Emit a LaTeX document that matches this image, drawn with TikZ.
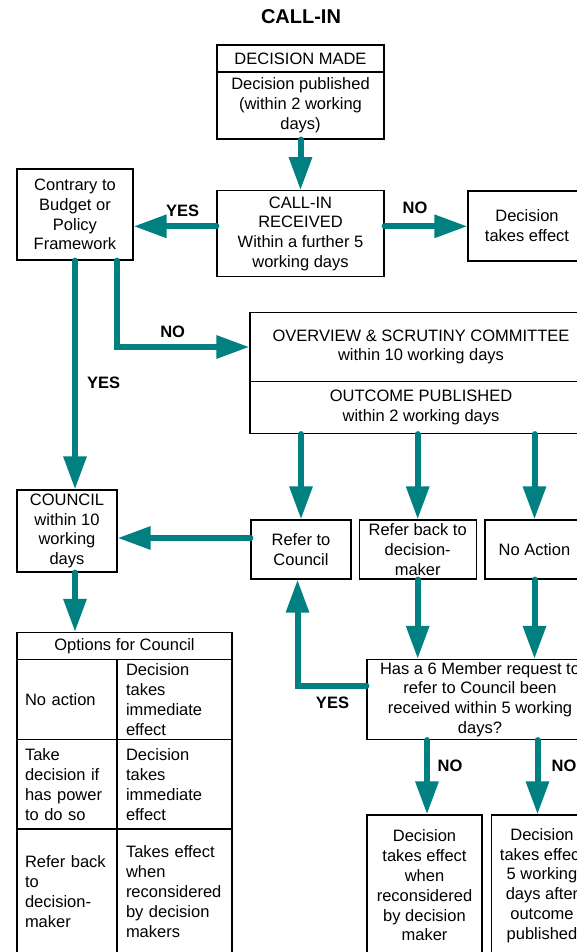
\documentclass[tikz,border=0pt]{standalone}
\usepackage{fontspec}
\setmainfont{Liberation Sans}
\usetikzlibrary{arrows.meta}
\definecolor{callteal}{RGB}{0,128,128}

\begin{document}
\begin{tikzpicture}[x=1pt,y=-1pt,
    box/.style={draw, line width=1.2pt, align=center, inner sep=0pt, font=\fontsize{16.5}{19.8}\selectfont},
    cell/.style={draw, line width=1.2pt, align=left, inner ysep=0pt, font=\fontsize{16.5}{19.8}\selectfont},
    flow/.style={draw=callteal, line width=6pt, line cap=round, -{Triangle[length=33pt,width=22pt]}},
    lbl/.style={font=\bfseries\fontsize{16.5}{19.8}\selectfont}]
    \useasboundingbox (0,0) rectangle (576,952);
    \node[font=\bfseries\fontsize{20}{24}\selectfont] (title) at (301,17) {CALL-IN};
    % top of the chart
    \node[box, minimum width=167pt, minimum height=27pt] (decmade) at (300.5,58.5) {DECISION MADE};
    \node[box, minimum width=167pt, minimum height=67pt] (decpub) at (300.5,105.5) {Decision published\\(within 2 working\\days)};
    \node[box, minimum width=167pt, minimum height=86pt] (callin) at (300.5,233.8) {CALL-IN\\RECEIVED\\Within a further 5\\working days};
    \node[box, minimum width=116pt, minimum height=91pt] (contrary) at (75,214.5) {Contrary to\\Budget or\\Policy\\Framework};
    \node[box, minimum width=118pt, minimum height=70pt] (effect) at (527,226) {Decision\\takes effect};
    % committee
    \node[box, minimum width=342pt, minimum height=69pt] (osc) at (421,347) {OVERVIEW \& SCRUTINY COMMITTEE\\within 10 working days};
    \node[box, minimum width=342pt, minimum height=52pt] (outcome) at (421,407.5) {OUTCOME PUBLISHED\\within 2 working days};
    \node[box, minimum width=100pt, minimum height=59pt] (refcouncil) at (301,549.5) {Refer to\\Council};
    \node[box, minimum width=117pt, minimum height=59pt] (referback) at (417.7,549.5) {Refer back to\\decision-\\maker};
    \node[box, minimum width=99pt, minimum height=59pt] (noaction) at (534.5,549.5) {No Action};
    \node[box, minimum width=100pt, minimum height=82pt] (council) at (67,531) {COUNCIL\\within 10\\working\\days};
    % options table
    \node[box, minimum width=215pt, minimum height=27pt] (opthead) at (124.5,646) {Options for Council};
    \node[cell, text width=84pt, inner xsep=8pt, minimum height=80pt] (opt1a) at (67,699.5) {No action};
    \node[cell, text width=97pt, inner xsep=9pt, minimum height=80pt] (opt1b) at (174.5,699.5) {Decision\\takes\\immediate\\effect};
    \node[cell, text width=84pt, inner xsep=8pt, minimum height=90pt] (opt2a) at (67,784.5) {Take\\decision if\\has power\\to do so};
    \node[cell, text width=97pt, inner xsep=9pt, minimum height=90pt] (opt2b) at (174.5,784.5) {Decision\\takes\\immediate\\effect};
    \node[cell, text width=84pt, inner xsep=8pt, minimum height=125pt] (opt3a) at (67,891.5) {Refer back\\to\\decision-\\maker};
    \node[cell, text width=97pt, inner xsep=9pt, minimum height=125pt] (opt3b) at (174.5,891.5) {Takes effect\\when\\reconsidered\\by decision\\makers};
    % member request
    \node[box, minimum width=226pt, minimum height=80pt] (question) at (480,699.5) {Has a 6 Member request to\\refer to Council been\\received within 5 working\\days?};
    \node[box, minimum width=115pt, minimum height=141pt] (botleft) at (424.5,885.5) {Decision\\takes effect\\when\\reconsidered\\by decision\\maker};
    \node[box, minimum width=101pt, minimum height=141pt] (botright) at (542,885.5) {Decision\\takes effect\\5 working\\days after\\outcome\\published};
    % connectors
    \draw[flow] (decpub.south) -- (callin.north);
    \draw[flow] ([yshift=7.5pt]callin.west) -- ([yshift=7.5pt]callin.west -| contrary.east);
    \draw[flow] ([yshift=7.5pt]callin.east) -- ([yshift=7.5pt]callin.east -| effect.west);
    \draw[flow] (contrary.south) -- (contrary.south |- council.north);
    \draw[flow] ([xshift=42pt]contrary.south) |- (osc.west);
    \draw[flow] (outcome.south -| refcouncil.north) -- (refcouncil.north);
    \draw[flow] (outcome.south -| referback.north) -- (referback.north);
    \draw[flow] (outcome.south -| noaction.north) -- (noaction.north);
    \draw[flow] ([yshift=11.5pt]refcouncil.west) -- ([yshift=11.5pt]refcouncil.west -| council.east);
    \draw[flow] (council.south -| contrary.south) -- (contrary.south |- opthead.north);
    \draw[flow] (referback.south) -- (referback.south |- question.north);
    \draw[flow] (noaction.south) -- (noaction.south |- question.north);
    \draw[flow] ([yshift=14pt]question.west) -| ([xshift=-3.5pt]refcouncil.south);
    \draw[flow] ([xshift=-53pt]question.south) -- ([xshift=-53pt]question.south |- botleft.north);
    \draw[flow] ([xshift=57.5pt]question.south) -- ([xshift=57.5pt]question.south |- botright.north);
    % labels
    \node[lbl] (yes1) at (182.6,211) {YES};
    \node[lbl] (no1) at (415,208) {NO};
    \node[lbl] (no2) at (172.7,332) {NO};
    \node[lbl] (yes2) at (103.6,383) {YES};
    \node[lbl] (yes3) at (332.5,703) {YES};
    \node[lbl] (no3) at (450,766) {NO};
    \node[lbl] (no4) at (564,766) {NO};
\end{tikzpicture}
\end{document}
